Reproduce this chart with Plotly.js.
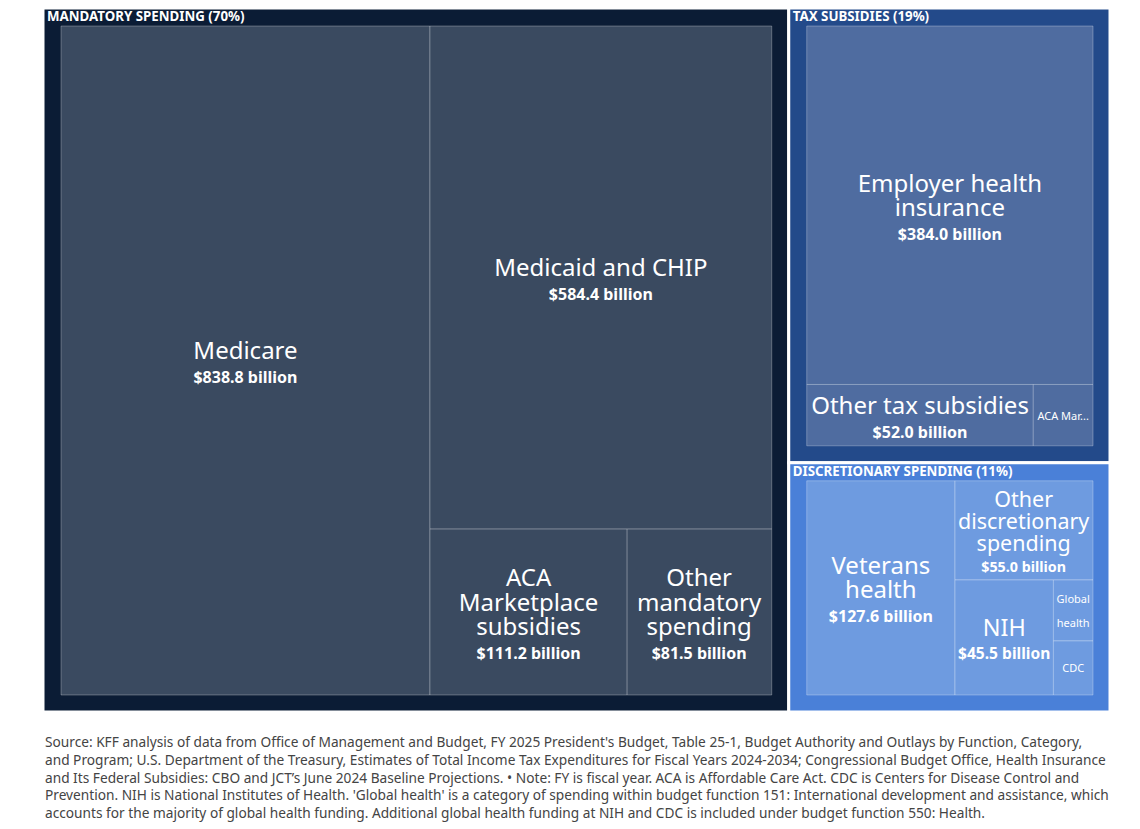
<!DOCTYPE html>
<html>
<head>
<meta charset="utf-8">
<script src="https://cdn.plot.ly/plotly-3.0.1.min.js"></script>
<style>
  html, body { margin: 0; padding: 0; background: #ffffff; overflow: hidden; }
  #chart { position: absolute; left: 0; top: -19px; width: 1140px; height: 848px; }
</style>
</head>
<body>
<div id="chart"></div>
<script>
// ---- Data ----
var groupIds = ["mandatory", "tax", "discretionary"];
var groupLabels = ["MANDATORY SPENDING (70%)", "TAX SUBSIDIES (19%)", "DISCRETIONARY SPENDING (11%)"];

var leafIds = ["medicare", "medicaid", "acaMarket", "otherMandatory",
               "employer", "otherTax", "acaTax",
               "veterans", "otherDisc", "nih", "globalHealth", "cdc"];
var leafParents = ["mandatory", "mandatory", "mandatory", "mandatory",
                   "tax", "tax", "tax",
                   "discretionary", "discretionary", "discretionary", "discretionary", "discretionary"];
var leafLabels = ["Medicare", "Medicaid and CHIP", "ACA<br>Marketplace<br>subsidies", "Other<br>mandatory<br>spending",
                  "Employer health<br>insurance", "Other tax subsidies", "ACA Mar...",
                  "Veterans<br>health", "Other<br>discretionary<br>spending", "NIH", "Global<br>health", "CDC"];
var leafValues = [838.8, 584.4, 111.2, 81.5,
                  384.0, 52.0, 13.7,
                  127.6, 55.0, 45.5, 9.7, 8.6];

var footnoteLines = [
  "Source: KFF analysis of data from Office of Management and Budget, FY 2025 President's Budget, Table 25-1, Budget Authority and Outlays by Function, Category,",
  "and Program; U.S. Department of the Treasury, Estimates of Total Income Tax Expenditures for Fiscal Years 2024-2034; Congressional Budget Office, Health Insurance",
  "and Its Federal Subsidies: CBO and JCT\u2019s June 2024 Baseline Projections. \u2022 Note: FY is fiscal year. ACA is Affordable Care Act. CDC is Centers for Disease Control and",
  "Prevention. NIH is National Institutes of Health. 'Global health' is a category of spending within budget function 151: International development and assistance, which",
  "accounts for the majority of global health funding. Additional global health funding at NIH and CDC is included under budget function 550: Health."
];

// ---- Styles ----
var FONT = "Noto Sans, Open Sans, sans-serif";
var groupColors = {mandatory: "#0b1c35", tax: "#234a8a", discretionary: "#4a80d8"};
var leafColors = {mandatory: "#3a4a60", tax: "#4f6ca0", discretionary: "#6e9be0"};

var ids = [], labels = [], parents = [], values = [], colors = [], lineColors = [], lineWidths = [], templates = [];
groupIds.forEach(function (g, i) {
  ids.push(g); labels.push(groupLabels[i]); parents.push(""); values.push(0);
  colors.push(groupColors[g]); lineColors.push("#ffffff"); lineWidths.push(3);
  templates.push("<b>%{label}</b>");
});
leafIds.forEach(function (id, i) {
  ids.push(id); labels.push(leafLabels[i]); parents.push(leafParents[i]); values.push(leafValues[i]);
  colors.push(leafColors[leafParents[i]]); lineColors.push("rgba(255,255,255,0.28)"); lineWidths.push(1);
  if (leafValues[i] < 15) {
    templates.push("<span style='font-size:11px'>%{label}</span>");
  } else {
    templates.push("<span style='font-size:24px'>%{label}</span><br><b><span style='font-size:16px'>$%{value:.1f} billion</span></b>");
  }
});

var trace = {
  type: "treemap",
  ids: ids,
  labels: labels,
  parents: parents,
  values: values,
  branchvalues: "remainder",
  sort: true,
  texttemplate: templates,
  textposition: "middle center",
  textfont: {family: FONT, size: 18.5, color: "#ffffff"},
  marker: {
    colors: colors,
    line: {color: lineColors, width: lineWidths},
    pad: {t: 18, l: 18, r: 17, b: 17}
  },
  tiling: {pad: 0},
  pathbar: {visible: false},
  hoverinfo: "none"
};

var layout = {
  width: 1140,
  height: 848,
  margin: {l: 25, r: 13, t: 9, b: 100},
  paper_bgcolor: "#ffffff",
  showlegend: false,
  font: {family: FONT, color: "#ffffff"},
  annotations: [{
    xref: "paper", yref: "paper",
    x: 0.0163, y: -0.001,
    xanchor: "left", yanchor: "top",
    align: "left",
    showarrow: false,
    text: footnoteLines.join("<br>"),
    font: {family: FONT, size: 13.7, color: "#444444"}
  }]
};

var gd = document.getElementById("chart");
Plotly.newPlot(gd, [trace], layout, {displayModeBar: false, staticPlot: true}).then(function () {
  // Put the group header labels at the top-left of each group tile (as in the reference)
  var slices = gd.querySelectorAll("g.slice");
  slices.forEach(function (s) {
    var t = s.querySelector("text");
    var path = s.querySelector("path");
    if (!t || !path) return;
    if (groupLabels.indexOf(t.textContent) < 0) return;
    var bb = path.getBBox();
    t.setAttribute("text-anchor", "start");
    t.setAttribute("x", 0);
    t.setAttribute("y", 0);
    t.querySelectorAll("tspan").forEach(function (ts) { if (ts.hasAttribute("x")) ts.setAttribute("x", 0); });
    t.setAttribute("transform", "translate(" + (bb.x + 4) + "," + (bb.y + 13) + ")");
    t.style.fontSize = "13.3px";
    t.style.fontWeight = "bold";
  });
});
</script>
</body>
</html>
